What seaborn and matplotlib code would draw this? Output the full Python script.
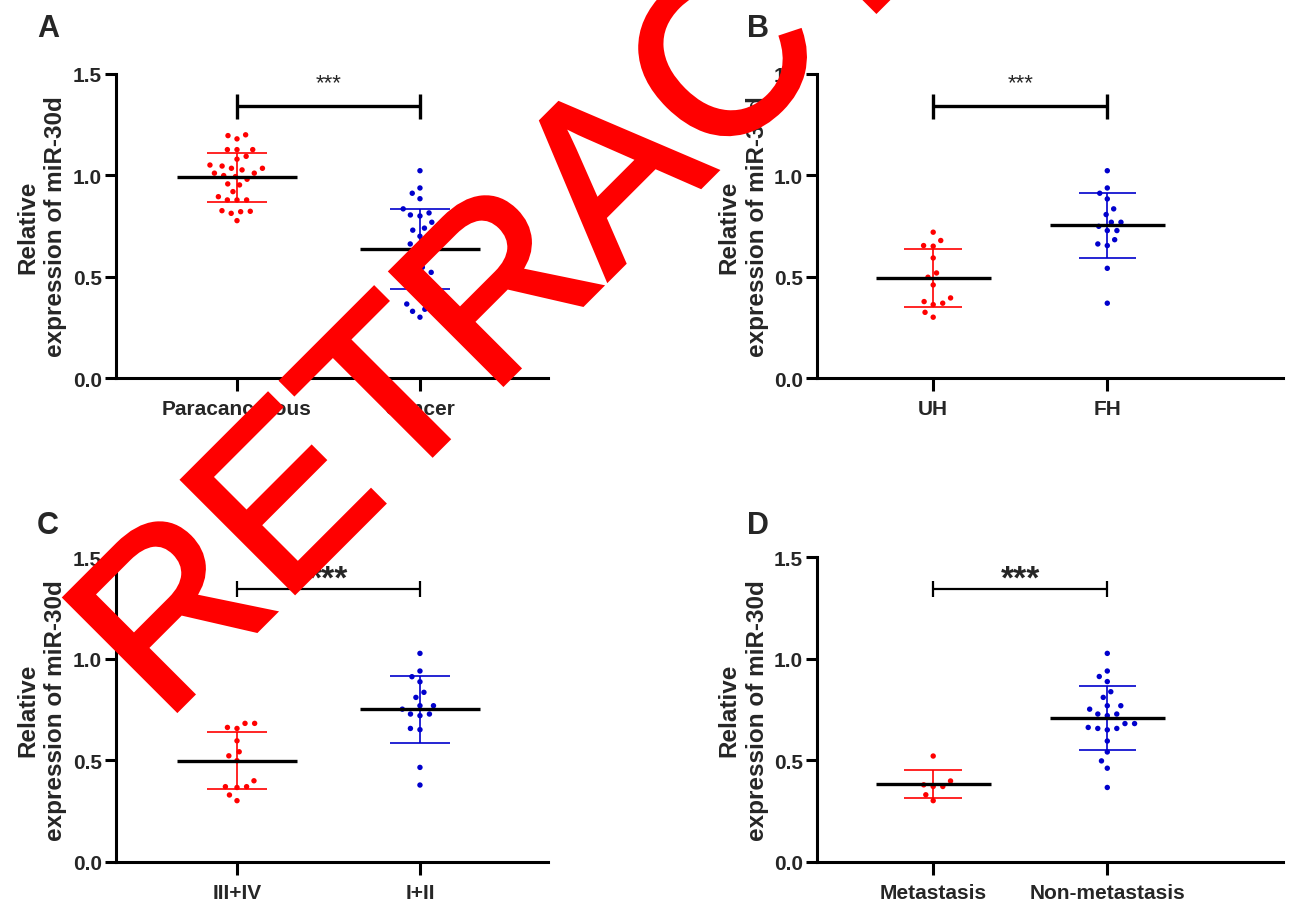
import numpy as np
import pandas as pd
import matplotlib
matplotlib.use("Agg")
import matplotlib.pyplot as plt
import matplotlib.patheffects as pe
import seaborn as sns

RED = "#FF0000"
BLUE = "#0000CC"

# ─── Data ─────────────────────────────────────────────────────────────────────
a_groups = ["Paracancerous", "Cancer"]
a_para = [1.20, 1.18, 1.196, 1.127, 1.127, 1.127, 1.08, 1.094, 1.027, 1.046,
          1.035, 1.051, 1.035, 0.994, 1.011, 1.011, 0.999, 0.981, 0.953, 0.958,
          0.92, 0.879, 0.879, 0.879, 0.895, 0.821, 0.826, 0.813, 0.823, 0.777]
a_cancer = [1.023, 0.938, 0.912, 0.885, 0.835, 0.815, 0.805, 0.769, 0.73, 0.678,
            0.662, 0.654, 0.596, 0.547, 0.522, 0.498, 0.366, 0.366, 0.301, 0.80,
            0.74, 0.70, 0.66, 0.62, 0.57, 0.52, 0.47, 0.43, 0.33, 0.34]

b_groups = ["UH", "FH"]
b_uh = [0.72, 0.679, 0.651, 0.654, 0.593, 0.519, 0.498, 0.46, 0.396, 0.378,
        0.37, 0.363, 0.325, 0.301]
b_fh = [1.023, 0.938, 0.884, 0.912, 0.835, 0.807, 0.769, 0.769, 0.749, 0.728,
        0.728, 0.683, 0.662, 0.654, 0.542, 0.37]

c_groups = ["III+IV", "I+II"]
c_late = [0.662, 0.657, 0.682, 0.682, 0.596, 0.542, 0.522, 0.498, 0.399, 0.366,
          0.37, 0.37, 0.329, 0.301]
c_early = [1.027, 0.94, 0.887, 0.912, 0.835, 0.81, 0.769, 0.752, 0.769, 0.728,
           0.72, 0.728, 0.657, 0.651, 0.465, 0.378]

d_groups = ["Metastasis", "Non-metastasis"]
d_met = [0.521, 0.398, 0.371, 0.371, 0.379, 0.33, 0.301]
d_nonmet = [1.027, 0.94, 0.913, 0.888, 0.838, 0.81, 0.769, 0.769, 0.752, 0.728,
            0.728, 0.72, 0.657, 0.681, 0.681, 0.657, 0.662, 0.65, 0.595, 0.541,
            0.497, 0.461, 0.366]

y_ticks = [0.0, 0.5, 1.0, 1.5]
y_label = "Relative\nexpression of miR-30d"

SWARM_LAYOUT_SIZE = 6.6   # spacing used for the beeswarm layout (pt)
DOT_SIZE = 3.9            # drawn dot diameter (pt)

sns.set_style("ticks")
plt.rcParams["font.family"] = ["Liberation Sans", "DejaVu Sans"]


def draw_panel(ax, groups, v1, v2, xlim, big_stars):
    df = pd.DataFrame({
        "group": [groups[0]] * len(v1) + [groups[1]] * len(v2),
        "value": list(v1) + list(v2),
    })
    n0 = len(ax.collections)
    sns.swarmplot(data=df, x="group", y="value", hue="group", order=groups,
                  palette={groups[0]: RED, groups[1]: BLUE},
                  size=SWARM_LAYOUT_SIZE, legend=False, ax=ax, zorder=3)
    swarm = ax.collections[n0:]

    # mean (black) + SD (group colour)
    for i, (vals, col) in enumerate([(v1, RED), (v2, BLUE)]):
        m = np.mean(vals)
        s = np.std(vals, ddof=1)
        ax.vlines(i, m - s, m + s, color=col, lw=1.2, zorder=4)
        ax.hlines([m - s, m + s], i - 0.165, i + 0.165, color=col, lw=1.2, zorder=4)
        ax.hlines(m, i - 0.33, i + 0.33, color="black", lw=2.4, zorder=5)

    # significance bracket
    if big_stars:
        lw, y, lo, hi = 1.6, 1.344, 1.304, 1.383
        ax.text(0.5, 1.35, "***", ha="center", va="baseline", fontsize=24,
                fontweight="bold", clip_on=False)
    else:
        lw, y, lo, hi = 2.4, 1.342, 1.28, 1.40
        ax.text(0.5, 1.43, "***", ha="center", va="baseline", fontsize=16,
                clip_on=False)
    ax.plot([0, 1], [y, y], color="black", lw=lw, clip_on=False,
            solid_capstyle="butt")
    for x in (0, 1):
        ax.plot([x, x], [lo, hi], color="black", lw=lw, clip_on=False,
                solid_capstyle="butt")

    ax.set_xlim(*xlim)
    ax.set_ylim(0, 1.5)
    ax.set_yticks(y_ticks)
    ax.set_yticklabels([f"{t:.1f}" for t in y_ticks])
    ax.set_xlabel("")
    ax.set_ylabel(y_label, fontsize=17.5, fontweight="bold", labelpad=4,
                  linespacing=1.3)
    for sp in ("top", "right"):
        ax.spines[sp].set_visible(False)
    for sp in ("left", "bottom"):
        ax.spines[sp].set_linewidth(2.2)
        ax.spines[sp].set_color("black")
    ax.tick_params(axis="both", width=2.2, color="black", labelsize=15)
    ax.tick_params(axis="x", length=9, pad=6)
    ax.tick_params(axis="y", length=8, pad=2)
    for lab in ax.get_xticklabels() + ax.get_yticklabels():
        lab.set_fontweight("bold")
    return swarm


fig = plt.figure(figsize=(12.91, 9.03), dpi=100)

ax_a = fig.add_axes([0.0899, 0.580, 0.3346, 0.337])
ax_b = fig.add_axes([0.6329, 0.580, 0.361, 0.337])
ax_c = fig.add_axes([0.0899, 0.0446, 0.3346, 0.337])
ax_d = fig.add_axes([0.6329, 0.0446, 0.361, 0.337])

swarms = []
swarms += draw_panel(ax_a, a_groups, a_para, a_cancer, (-0.661, 1.70), False)
swarms += draw_panel(ax_b, b_groups, b_uh, b_fh, (-0.667, 2.01), False)
swarms += draw_panel(ax_c, c_groups, c_late, c_early, (-0.661, 1.70), True)
swarms += draw_panel(ax_d, d_groups, d_met, d_nonmet, (-0.667, 2.01), True)

# lay the swarms out with wide spacing, then freeze them and shrink the dots
fig.canvas.draw()
for coll in swarms:
    coll.__dict__.pop("draw", None)
    coll.set_sizes([DOT_SIZE ** 2])

# panel letters
for letter, (px, py) in zip("ABCD", [(37, 37), (747, 37), (37, 534), (747, 534)]):
    fig.text(px / 1291, 1 - py / 903, letter, fontsize=22, fontweight="bold",
             color="#262626", ha="left", va="baseline")

# retraction watermark
fig.text(662 / 1291, 1 - 226 / 903, "RETRACTED", rotation=45,
         rotation_mode="anchor", ha="center", va="baseline", fontsize=166,
         color=RED, family="Liberation Sans", zorder=10,
         path_effects=[pe.withStroke(linewidth=3.5, foreground=RED,
                                     joinstyle="miter", capstyle="butt")])

fig.savefig("out.png", dpi=100)
